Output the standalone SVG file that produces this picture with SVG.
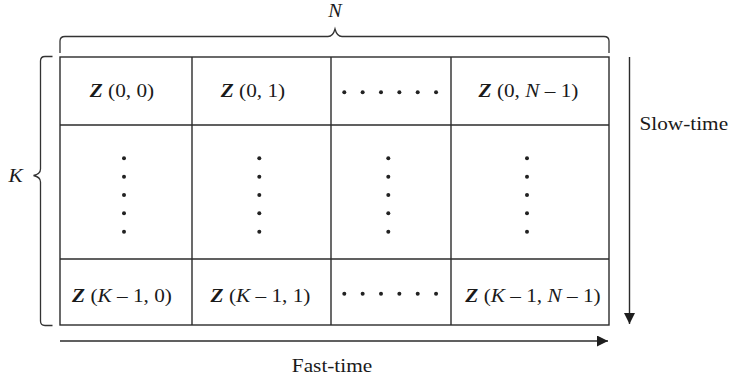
<svg xmlns="http://www.w3.org/2000/svg" width="729" height="381" viewBox="0 0 729 381">
<style>
.ln{stroke:#2b2b2b;stroke-width:1.4;fill:none}
.br{stroke:#333;stroke-width:1.3;fill:none}
.lb{font-family:"Liberation Serif","Times New Roman",serif;font-size:18.5px;fill:#1a1a1a;text-anchor:middle}
.ax{font-family:"Liberation Serif","Times New Roman",serif;font-size:19px;fill:#1a1a1a}
.z{font-weight:bold;font-style:italic}
.it{font-style:italic}
.dot{fill:#222}
</style>
<defs>
<marker id="ah" viewBox="0 0 11 11" refX="11" refY="5.5" markerWidth="11" markerHeight="11" markerUnits="userSpaceOnUse" orient="auto">
<path d="M0,0 L11,5.5 L0,11 Z" fill="#1e1e1e"/>
</marker>
<g id="vdots">
<circle class="dot" cx="0" cy="0" r="2"/>
<circle class="dot" cx="0" cy="18.35" r="2"/>
<circle class="dot" cx="0" cy="36.7" r="2"/>
<circle class="dot" cx="0" cy="55.05" r="2"/>
<circle class="dot" cx="0" cy="73.4" r="2"/>
</g>
<g id="hdots">
<circle class="dot" cx="0" cy="0" r="2"/>
<circle class="dot" cx="18.35" cy="0" r="2"/>
<circle class="dot" cx="36.7" cy="0" r="2"/>
<circle class="dot" cx="55.05" cy="0" r="2"/>
<circle class="dot" cx="73.4" cy="0" r="2"/>
<circle class="dot" cx="91.75" cy="0" r="2"/>
</g>
</defs>
<rect width="729" height="381" fill="#fff"/>

<g id="braces">
<path class="br" d="M60,53 L60,41 Q60,36.5 65,36.5 L328,36.5 Q333,36.5 335,29 Q337,36.5 342,36.5 L604,36.5 Q609,36.5 609,41 L609,53"/>
<text class="ax it" transform="translate(335,16.5) scale(1.12,1)" text-anchor="middle" style="font-size:18px">N</text>
<path class="br" d="M52.5,56.5 L45,56.5 Q40.5,56.5 40.5,61 L40.5,169 Q40.5,174 33.5,175.5 Q40.5,177 40.5,182 L40.5,321 Q40.5,325.5 45,325.5 L52.5,325.5"/>
<text class="ax it" transform="translate(8.5,182) scale(1.12,1)">K</text>
</g>

<g id="grid">
<rect class="ln" x="60" y="57" width="549" height="268"/>
<line class="ln" x1="60" y1="125" x2="609" y2="125"/>
<line class="ln" x1="60" y1="259" x2="609" y2="259"/>
<line class="ln" x1="192" y1="57" x2="192" y2="325"/>
<line class="ln" x1="331" y1="57" x2="331" y2="325"/>
<line class="ln" x1="451" y1="57" x2="451" y2="325"/>
</g>

<g id="cell-0-0"><text class="lb" transform="translate(122,96.7) scale(1.15,1)"><tspan class="z">Z</tspan> (0, 0)</text></g>
<g id="cell-0-1"><text class="lb" transform="translate(253,96.7) scale(1.15,1)"><tspan class="z">Z</tspan> (0, 1)</text></g>
<g id="cell-0-dots"><use href="#hdots" x="344.3" y="92.3"/></g>
<g id="cell-0-N1"><text class="lb" transform="translate(528.5,96.7) scale(1.15,1)"><tspan class="z">Z</tspan> (0, <tspan class="it">N</tspan> – 1)</text></g>

<g id="cell-mid-0"><use href="#vdots" x="124" y="158.3"/></g>
<g id="cell-mid-1"><use href="#vdots" x="259.3" y="158.3"/></g>
<g id="cell-mid-2"><use href="#vdots" x="388.3" y="158.3"/></g>
<g id="cell-mid-3"><use href="#vdots" x="527" y="158.3"/></g>

<g id="cell-K1-0"><text class="lb" transform="translate(122,301.7) scale(1.15,1)"><tspan class="z">Z</tspan> (<tspan class="it">K</tspan> – 1, 0)</text></g>
<g id="cell-K1-1"><text class="lb" transform="translate(260.5,301.7) scale(1.15,1)"><tspan class="z">Z</tspan> (<tspan class="it">K</tspan> – 1, 1)</text></g>
<g id="cell-K1-dots"><use href="#hdots" x="344.3" y="293.7"/></g>
<g id="cell-K1-N1"><text class="lb" transform="translate(533,301.7) scale(1.15,1)"><tspan class="z">Z</tspan> (<tspan class="it">K</tspan> – 1, <tspan class="it">N</tspan> – 1)</text></g>

<g id="connectors">
<line class="ln" x1="629.5" y1="57" x2="629.5" y2="324" marker-end="url(#ah)"/>
<line class="ln" x1="60" y1="341" x2="608" y2="341" marker-end="url(#ah)"/>
</g>

<g id="axis-labels">
<text class="ax" transform="translate(639.5,130) scale(1.12,1)">Slow-time</text>
<text class="ax" transform="translate(332,371.5) scale(1.12,1)" text-anchor="middle">Fast-time</text>
</g>
</svg>
